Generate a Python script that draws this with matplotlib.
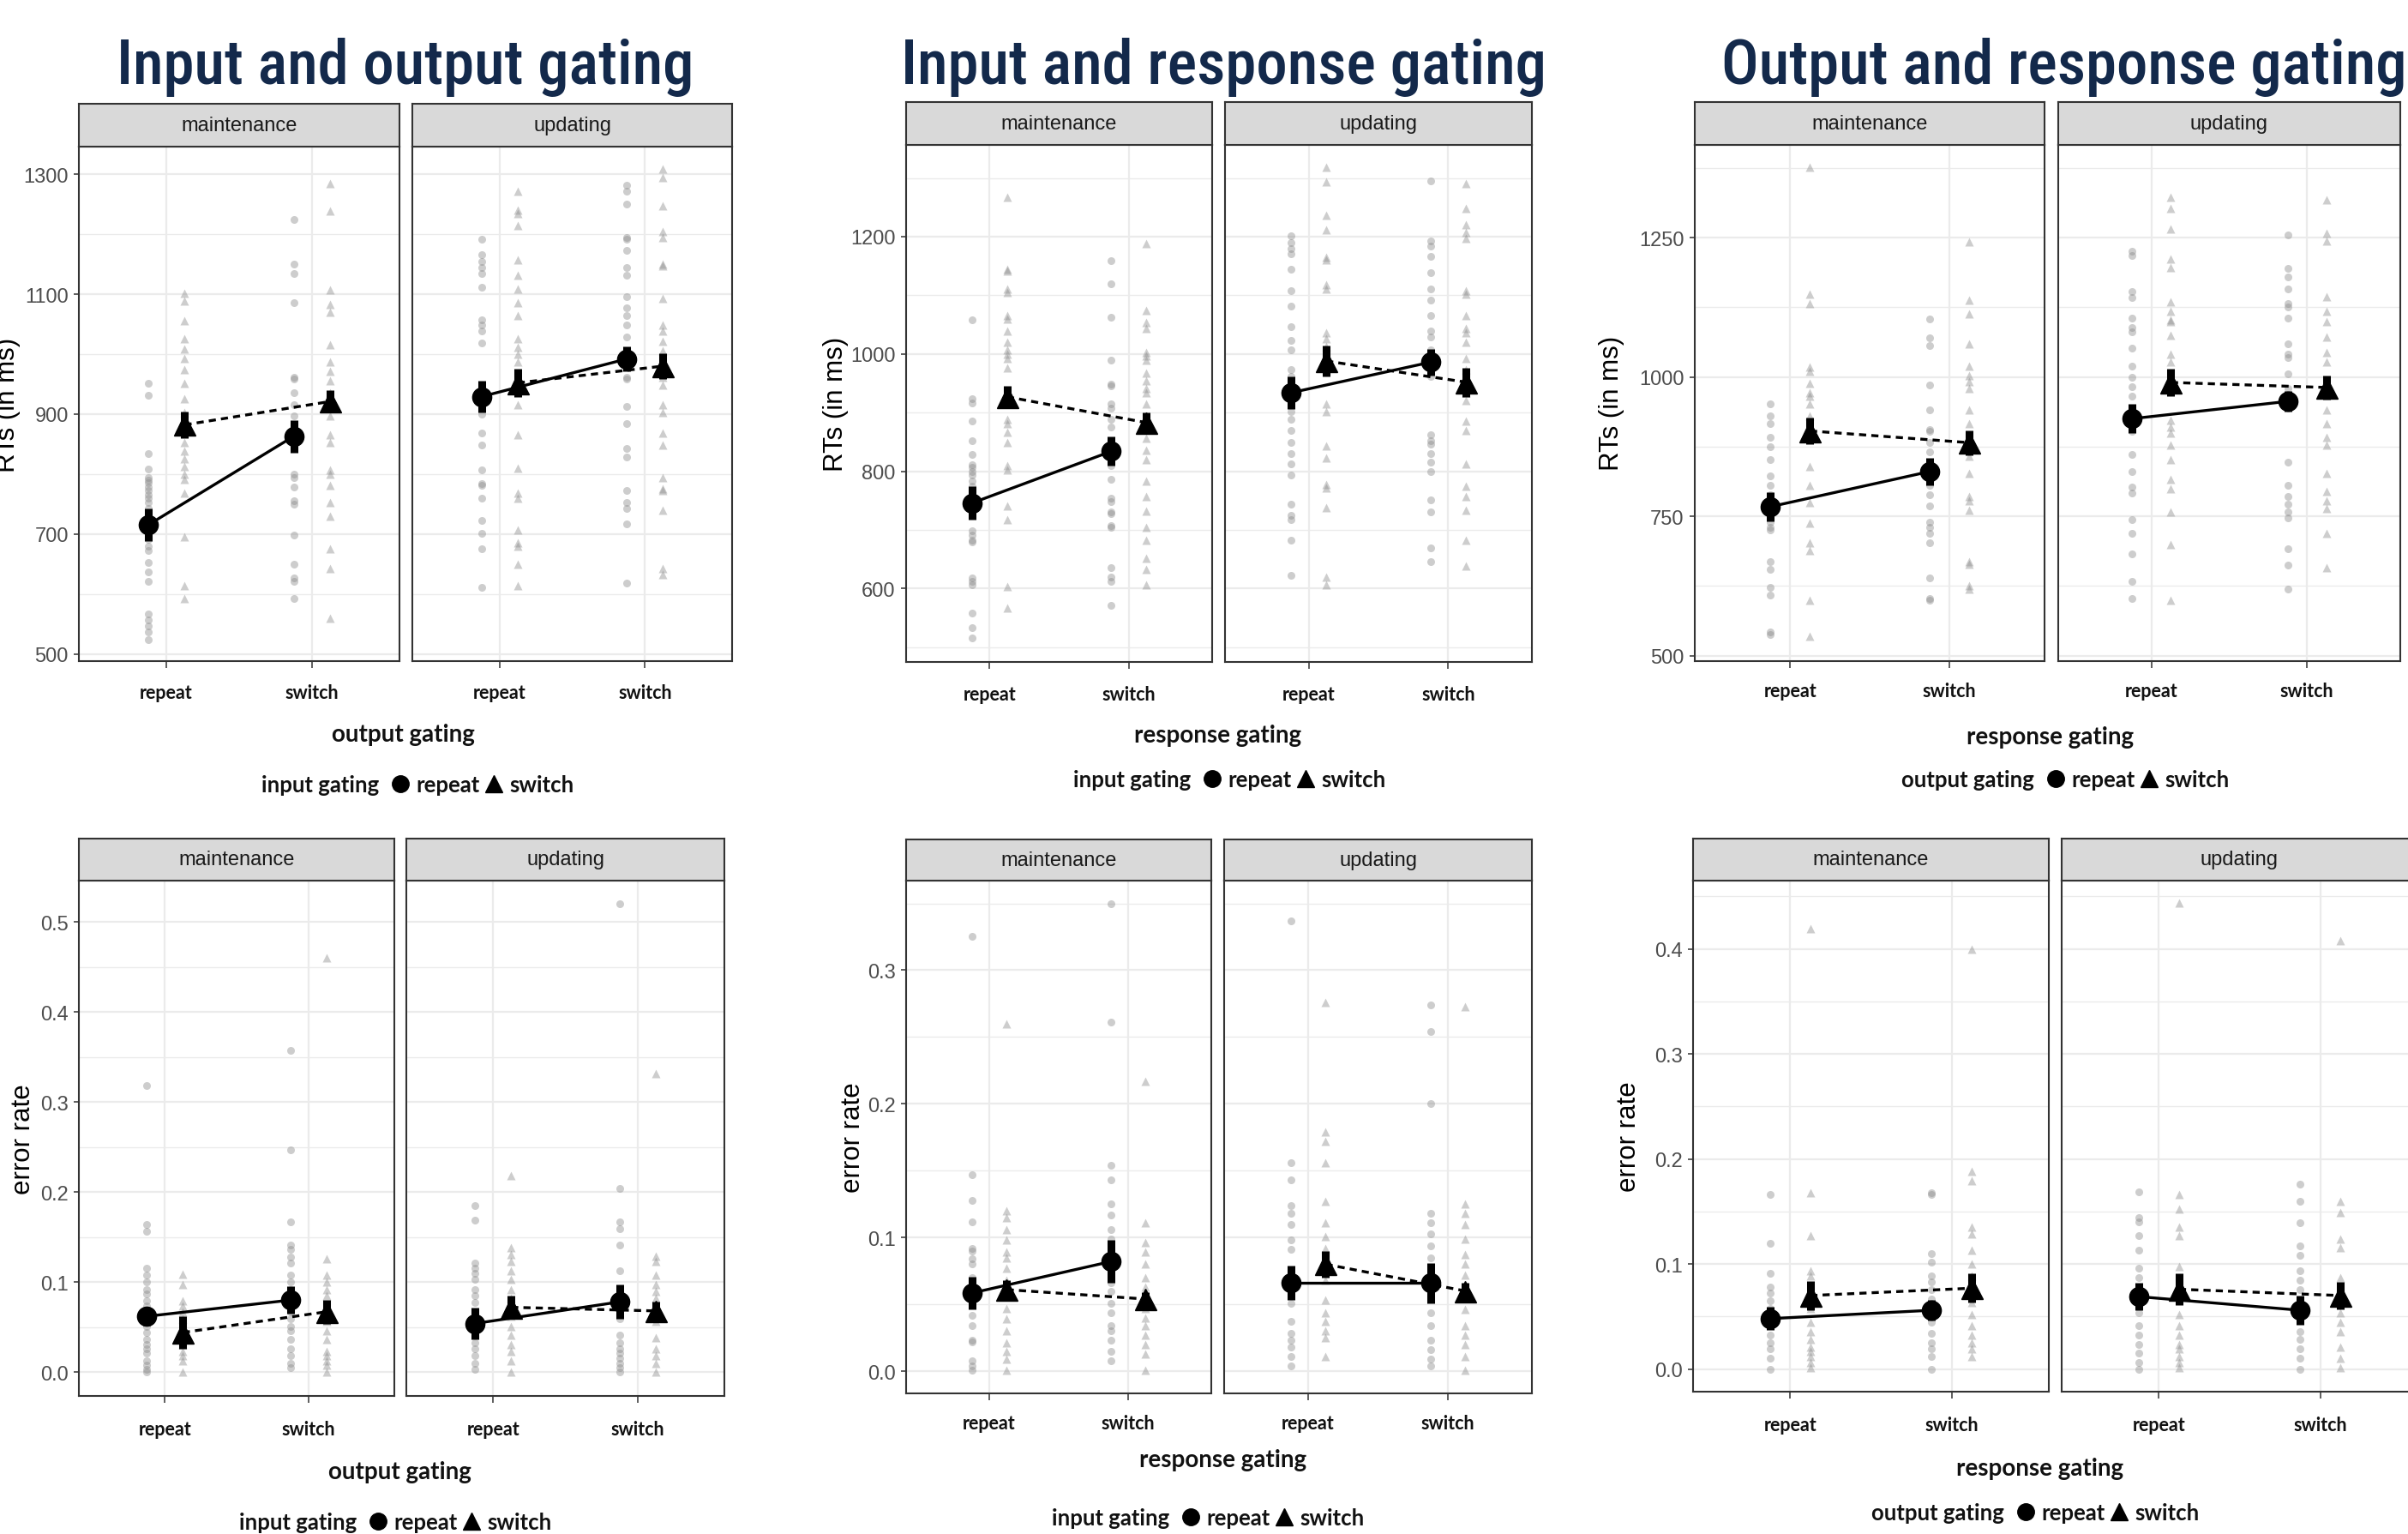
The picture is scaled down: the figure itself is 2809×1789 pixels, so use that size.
import matplotlib
matplotlib.use("Agg")
import matplotlib.pyplot as plt
from matplotlib.lines import Line2D
from matplotlib import font_manager as fm
import numpy as np

W, H = 2809, 1790
DPI = 100

# ----------------------------------------------------------------- data
facets = ["maintenance", "updating"]
levels = ["repeat", "switch"]

# Panel 1: RTs, input (legend) x output (x axis)
rt_io_maint_c_rep = [951, 931, 834, 809, 794, 790, 785, 778, 772, 765, 759, 753, 743, 736, 711, 691, 679, 672, 653, 637, 621, 566, 557, 547, 537, 524]
rt_io_maint_c_sw = [1224, 1150, 1134, 1086, 961, 958, 935, 916, 897, 878, 865, 852, 800, 794, 778, 756, 749, 698, 650, 627, 621, 592]
rt_io_maint_t_rep = [1102, 1089, 1056, 1025, 1009, 993, 974, 951, 926, 903, 884, 868, 852, 839, 826, 813, 800, 791, 768, 695, 614, 592]
rt_io_maint_t_sw = [1285, 1239, 1107, 1083, 1070, 1016, 987, 971, 955, 935, 916, 897, 865, 852, 807, 800, 781, 752, 730, 675, 643, 560]
rt_io_upd_c_rep = [1192, 1166, 1154, 1144, 1134, 1112, 1057, 1048, 1038, 1019, 923, 910, 900, 868, 849, 807, 784, 781, 759, 723, 701, 675, 611]
rt_io_upd_c_sw = [1282, 1272, 1250, 1195, 1192, 1173, 1144, 1131, 1096, 1077, 1064, 1048, 1028, 1000, 961, 958, 913, 884, 842, 829, 772, 752, 743, 717, 618]
rt_io_upd_t_rep = [1272, 1240, 1234, 1215, 1157, 1131, 1109, 1086, 1064, 1025, 1012, 1000, 987, 961, 948, 916, 865, 810, 768, 759, 707, 685, 679, 650, 614]
rt_io_upd_t_sw = [1309, 1295, 1247, 1205, 1195, 1150, 1147, 1093, 1048, 1038, 1022, 1006, 987, 961, 948, 916, 903, 868, 849, 794, 775, 772, 740, 643, 633]
# means / error half-widths ordered: circle@repeat, circle@switch, triangle@repeat, triangle@switch
rt_io_maint_mean = [715, 863, 882, 921]
rt_io_maint_err = [27, 27, 22, 19]
rt_io_upd_mean = [929, 992, 952, 980]
rt_io_upd_err = [26, 21, 24, 22]

# Panel 2: RTs, input (legend) x response (x axis)
rt_ir_maint_c_rep = [1058, 923, 916, 885, 852, 828, 811, 807, 800, 793, 784, 774, 764, 754, 698, 692, 682, 679, 618, 613, 607, 559, 534, 516]
rt_ir_maint_c_sw = [1159, 1119, 1062, 990, 949, 946, 915, 908, 889, 875, 836, 810, 787, 754, 748, 731, 728, 708, 705, 636, 620, 613, 572]
rt_ir_maint_t_rep = [1267, 1144, 1141, 1111, 1105, 1066, 1059, 1039, 1020, 1007, 1000, 993, 977, 918, 889, 882, 866, 849, 810, 803, 741, 718, 603, 567]
rt_ir_maint_t_sw = [1188, 1074, 1054, 1043, 1003, 997, 990, 967, 954, 941, 934, 915, 895, 875, 856, 836, 820, 784, 757, 732, 705, 682, 652, 633, 607]
rt_ir_upd_c_rep = [1201, 1190, 1180, 1170, 1144, 1108, 1082, 1046, 1023, 1007, 974, 961, 902, 889, 869, 849, 830, 813, 793, 744, 725, 718, 682, 623]
rt_ir_upd_c_sw = [1295, 1193, 1184, 1167, 1138, 1111, 1092, 1066, 1039, 1029, 1007, 997, 974, 961, 862, 852, 846, 830, 816, 800, 751, 731, 669, 646]
rt_ir_upd_t_rep = [1319, 1293, 1236, 1211, 1165, 1161, 1118, 1111, 1036, 1026, 1013, 1000, 974, 915, 902, 843, 823, 777, 771, 738, 620, 607]
rt_ir_upd_t_sw = [1290, 1248, 1221, 1207, 1197, 1108, 1102, 1066, 1043, 1036, 1020, 993, 974, 954, 934, 921, 885, 869, 813, 774, 757, 734, 682, 639]
rt_ir_maint_mean = [746, 834, 927, 883]
rt_ir_maint_err = [29, 25, 18, 18]
rt_ir_upd_mean = [934, 986, 988, 952]
rt_ir_upd_err = [28, 23, 26, 25]

# Panel 3: RTs, output (legend) x response (x axis)
rt_or_maint_c_rep = [951, 930, 916, 892, 875, 851, 823, 806, 789, 768, 751, 740, 730, 725, 668, 654, 623, 609, 543, 537]
rt_or_maint_c_sw = [1104, 1070, 1056, 985, 941, 906, 903, 882, 865, 830, 820, 806, 789, 768, 740, 730, 720, 702, 640, 602, 599]
rt_or_maint_t_rep = [1376, 1148, 1132, 1017, 1010, 989, 972, 965, 951, 930, 840, 806, 775, 737, 702, 689, 599, 535]
rt_or_maint_t_sw = [1242, 1137, 1113, 1059, 1019, 1003, 992, 979, 941, 916, 889, 858, 827, 785, 778, 761, 668, 664, 626, 619]
rt_or_upd_c_rep = [1226, 1218, 1153, 1143, 1106, 1088, 1081, 1051, 1020, 999, 982, 965, 934, 923, 903, 861, 830, 802, 792, 744, 720, 682, 633, 602]
rt_or_upd_c_sw = [1255, 1194, 1179, 1158, 1131, 1125, 1106, 1060, 1041, 1034, 1006, 979, 951, 847, 806, 785, 771, 758, 747, 692, 662, 619]
rt_or_upd_t_rep = [1322, 1302, 1265, 1212, 1196, 1134, 1117, 1103, 1099, 1075, 1041, 1027, 999, 923, 910, 899, 878, 851, 816, 799, 758, 699, 599]
rt_or_upd_t_sw = [1317, 1258, 1244, 1144, 1117, 1099, 1072, 1044, 1027, 941, 916, 892, 878, 827, 795, 778, 764, 720, 657]
rt_or_maint_mean = [767, 830, 903, 882]
rt_or_maint_err = [26, 24, 24, 22]
rt_or_upd_mean = [925, 956, 990, 981]
rt_or_upd_err = [26, 19, 24, 21]

# Panel 4: error rate, input (legend) x output (x axis)
er_io_maint_c_rep = [0.318, 0.164, 0.156, 0.115, 0.108, 0.100, 0.092, 0.087, 0.079, 0.074, 0.067, 0.059, 0.051, 0.044, 0.036, 0.031, 0.026, 0.021, 0.013, 0.008, 0.003, 0.0]
er_io_maint_c_sw = [0.357, 0.247, 0.167, 0.141, 0.136, 0.128, 0.121, 0.108, 0.100, 0.092, 0.085, 0.077, 0.067, 0.059, 0.051, 0.046, 0.036, 0.026, 0.018, 0.010, 0.005]
er_io_maint_t_rep = [0.109, 0.097, 0.079, 0.074, 0.067, 0.059, 0.051, 0.041, 0.031, 0.023, 0.018, 0.013, 0.0]
er_io_maint_t_sw = [0.46, 0.126, 0.108, 0.100, 0.092, 0.085, 0.067, 0.056, 0.046, 0.036, 0.023, 0.018, 0.013, 0.008, 0.0]
er_io_upd_c_rep = [0.185, 0.169, 0.121, 0.115, 0.110, 0.103, 0.092, 0.085, 0.077, 0.067, 0.059, 0.051, 0.041, 0.033, 0.026, 0.018, 0.010, 0.003]
er_io_upd_c_sw = [0.52, 0.204, 0.167, 0.159, 0.141, 0.113, 0.082, 0.067, 0.059, 0.041, 0.033, 0.026, 0.021, 0.015, 0.010, 0.005, 0.0]
er_io_upd_t_rep = [0.218, 0.138, 0.131, 0.123, 0.113, 0.103, 0.092, 0.082, 0.072, 0.062, 0.051, 0.041, 0.031, 0.023, 0.013, 0.0]
er_io_upd_t_sw = [0.332, 0.129, 0.123, 0.108, 0.097, 0.090, 0.082, 0.067, 0.056, 0.038, 0.026, 0.018, 0.010, 0.0]
er_io_maint_mean = [0.062, 0.080, 0.044, 0.067]
er_io_maint_err = [0.010, 0.015, 0.018, 0.013]
er_io_upd_mean = [0.054, 0.078, 0.072, 0.068]
er_io_upd_err = [0.018, 0.019, 0.013, 0.010]

# Panel 5: error rate, input (legend) x response (x axis)
er_ir_maint_c_rep = [0.325, 0.147, 0.128, 0.112, 0.092, 0.090, 0.084, 0.080, 0.070, 0.056, 0.051, 0.042, 0.034, 0.023, 0.022, 0.008, 0.004, 0.001]
er_ir_maint_c_sw = [0.35, 0.261, 0.154, 0.143, 0.125, 0.117, 0.106, 0.099, 0.091, 0.075, 0.066, 0.060, 0.051, 0.044, 0.034, 0.030, 0.023, 0.015, 0.008]
er_ir_maint_t_rep = [0.26, 0.120, 0.115, 0.106, 0.098, 0.089, 0.085, 0.077, 0.068, 0.058, 0.047, 0.039, 0.030, 0.021, 0.015, 0.009, 0.001]
er_ir_maint_t_sw = [0.217, 0.111, 0.096, 0.089, 0.080, 0.070, 0.063, 0.056, 0.047, 0.040, 0.034, 0.027, 0.020, 0.013, 0.001]
er_ir_upd_c_rep = [0.337, 0.156, 0.143, 0.124, 0.118, 0.110, 0.098, 0.091, 0.072, 0.058, 0.051, 0.037, 0.028, 0.023, 0.018, 0.011, 0.004]
er_ir_upd_c_sw = [0.274, 0.254, 0.200, 0.118, 0.111, 0.103, 0.094, 0.085, 0.075, 0.044, 0.034, 0.023, 0.016, 0.009, 0.004]
er_ir_upd_t_rep = [0.276, 0.179, 0.172, 0.156, 0.127, 0.111, 0.101, 0.092, 0.068, 0.053, 0.044, 0.037, 0.030, 0.025, 0.011]
er_ir_upd_t_sw = [0.273, 0.125, 0.118, 0.110, 0.099, 0.087, 0.080, 0.072, 0.056, 0.046, 0.034, 0.027, 0.020, 0.011, 0.001]
er_ir_maint_mean = [0.0585, 0.082, 0.061, 0.054]
er_ir_maint_err = [0.012, 0.016, 0.007, 0.005]
er_ir_upd_mean = [0.066, 0.066, 0.080, 0.060]
er_ir_upd_err = [0.013, 0.015, 0.010, 0.006]

# Panel 6: error rate, output (legend) x response (x axis)
er_or_maint_c_rep = [0.166, 0.120, 0.091, 0.078, 0.072, 0.065, 0.058, 0.050, 0.041, 0.032, 0.025, 0.019, 0.010, 0.0]
er_or_maint_c_sw = [0.168, 0.166, 0.110, 0.102, 0.089, 0.083, 0.076, 0.067, 0.054, 0.045, 0.034, 0.025, 0.019, 0.012, 0.0]
er_or_maint_t_rep = [0.419, 0.168, 0.127, 0.094, 0.089, 0.058, 0.045, 0.036, 0.028, 0.021, 0.017, 0.012, 0.006, 0.001]
er_or_maint_t_sw = [0.40, 0.188, 0.179, 0.135, 0.129, 0.113, 0.100, 0.089, 0.072, 0.063, 0.052, 0.041, 0.032, 0.025, 0.019, 0.012]
er_or_upd_c_rep = [0.169, 0.144, 0.140, 0.127, 0.113, 0.096, 0.087, 0.076, 0.065, 0.054, 0.041, 0.032, 0.023, 0.015, 0.006, 0.0]
er_or_upd_c_sw = [0.176, 0.160, 0.139, 0.117, 0.108, 0.094, 0.085, 0.076, 0.052, 0.036, 0.028, 0.019, 0.010, 0.0]
er_or_upd_t_rep = [0.444, 0.166, 0.152, 0.135, 0.127, 0.098, 0.052, 0.041, 0.032, 0.023, 0.019, 0.012, 0.006, 0.001]
er_or_upd_t_sw = [0.408, 0.160, 0.149, 0.124, 0.116, 0.087, 0.078, 0.063, 0.054, 0.045, 0.036, 0.021, 0.010, 0.001]
er_or_maint_mean = [0.048, 0.056, 0.070, 0.077]
er_or_maint_err = [0.011, 0.010, 0.014, 0.014]
er_or_upd_mean = [0.069, 0.056, 0.076, 0.070]
er_or_upd_err = [0.013, 0.014, 0.015, 0.013]

column_titles = ["Input and output gating", "Input and response gating", "Output and response gating"]
x_titles = ["output gating", "response gating", "response gating"]
legend_titles = ["input gating", "input gating", "output gating"]
y_titles = ["RTs (in ms)", "error rate"]

# ----------------------------------------------------------------- fonts
names = {f.name for f in fm.fontManager.ttflist}


def pick(cands, default="DejaVu Sans"):
    for c in cands:
        if c in names:
            return c
    return default


SANS = pick(["Liberation Sans", "Arial", "DejaVu Sans"])
NARROW = pick(["Roboto Condensed", "Liberation Sans Narrow", "Open Sans Condensed", "Arial Narrow"], SANS)
BOLDF = pick(["Lato", "Open Sans", "Liberation Sans"])
# title weight: a medium cut when the condensed family ships one, else semibold/bold
_weights = {f.weight for f in fm.fontManager.ttflist if f.name == NARROW}
_weights = {int(w) if str(w).isdigit() else w for w in _weights}
TITLE_WEIGHT = 500 if 500 in _weights else (600 if 600 in _weights else "bold")

# ----------------------------------------------------------------- style
GRID = "#EBEBEB"
BORDER = "#333333"
STRIP_BG = "#D9D9D9"
PT_COL = "#8a8a8a"
TITLE_COL = "#13294B"

fig = plt.figure(figsize=(W / DPI, H / DPI), dpi=DPI)
fig.patch.set_facecolor("white")


def rect(x0, y0, x1, y1):
    return [x0 / W, 1 - y1 / H, (x1 - x0) / W, (y1 - y0) / H]


def fx(x):
    return x / W


def fy(y):
    return 1 - y / H


# panel layout (pixel boxes) -- positions only
panels = [
    dict(data="rt_io", maint=(92, 466), upd=(481, 854), strip_top=121.5, top=172, bottom=772,
         ylim=(488, 1346), major=[500, 700, 900, 1100, 1300], minor=[600, 800, 1000, 1200], fmt="{:.0f}",
         ytitle=0, ylab_x=9.5, col=0, xt=(470, 857), lg=(488, 916), tly=810),
    dict(data="rt_ir", maint=(1057, 1414), upd=(1429, 1787), strip_top=120, top=169.5, bottom=773,
         ylim=(475, 1357), major=[600, 800, 1000, 1200], minor=[500, 700, 900, 1100, 1300], fmt="{:.0f}",
         ytitle=0, ylab_x=974.5, col=1, xt=(1421, 858), lg=(1435, 910), tly=812),
    dict(data="rt_or", maint=(1977, 2385), upd=(2401, 2800), strip_top=120, top=169.5, bottom=772,
         ylim=(490, 1417), major=[500, 750, 1000, 1250], minor=[625, 875, 1125, 1375], fmt="{:.0f}",
         ytitle=0, ylab_x=1880, col=2, xt=(2392, 860), lg=(2410, 910), tly=808),
    dict(data="er_io", maint=(92, 460), upd=(474, 845), strip_top=978.5, top=1028, bottom=1628.5,
         ylim=(-0.026, 0.546), major=[0, 0.1, 0.2, 0.3, 0.4, 0.5], minor=[0.05, 0.15, 0.25, 0.35, 0.45], fmt="{:.1f}",
         ytitle=1, ylab_x=27, col=0, xt=(466, 1717), lg=(462, 1776), tly=1669),
    dict(data="er_ir", maint=(1057, 1413), upd=(1428, 1787), strip_top=979.6, top=1028, bottom=1626,
         ylim=(-0.0166, 0.367), major=[0, 0.1, 0.2, 0.3], minor=[0.05, 0.15, 0.25, 0.35], fmt="{:.1f}",
         ytitle=1, ylab_x=995, col=1, xt=(1427, 1703), lg=(1410, 1771), tly=1662),
    dict(data="er_or", maint=(1975, 2390), upd=(2405, 2820), strip_top=978.5, top=1028, bottom=1624,
         ylim=(-0.0215, 0.465), major=[0, 0.1, 0.2, 0.3, 0.4], minor=[0.05, 0.15, 0.25, 0.35, 0.45], fmt="{:.1f}",
         ytitle=1, ylab_x=1900, col=2, xt=(2380, 1713), lg=(2375, 1765), tly=1664),
]

G = globals()
DODGE = 0.125
TICK_LEN_PX = 8


def draw_facet(ax, prefix, fac):
    for s, marker, dodge in (("c", "o", -DODGE), ("t", "^", DODGE)):
        for xi, lv in enumerate(("rep", "sw")):
            vals = np.asarray(G[f"{prefix}_{fac}_{s}_{lv}"], dtype=float)
            ax.plot(np.full(vals.size, xi + 1 + dodge), vals, ls="none", marker=marker,
                    ms=6.5 if marker == "o" else 7, color=PT_COL, alpha=0.42, mec="none", zorder=2)
    means = G[f"{prefix}_{fac}_mean"]
    errs = G[f"{prefix}_{fac}_err"]
    for si, (marker, dodge, ls, msz) in enumerate((("o", -DODGE, "-", 16), ("^", DODGE, (0, (2.5, 1.8)), 18))):
        xs = np.array([1, 2]) + dodge
        ys = means[2 * si: 2 * si + 2]
        es = errs[2 * si: 2 * si + 2]
        ax.plot(xs, ys, color="black", lw=2.4, ls=ls, zorder=4)
        ax.errorbar(xs, ys, yerr=es, fmt="none", ecolor="black", elinewidth=6.5, capsize=0, zorder=5)
        ax.plot(xs, ys, ls="none", marker=marker, ms=msz, color="black", zorder=6)


for p in panels:
    prefix = p["data"]
    for fi, fac in enumerate(("maint", "upd")):
        x0, x1 = p[fac]
        ax = fig.add_axes(rect(x0, p["top"], x1, p["bottom"]))
        ax.set_facecolor("white")
        draw_facet(ax, prefix, fac)
        ax.set_xlim(0.4, 2.6)
        ax.set_ylim(*p["ylim"])
        ax.set_xticks([1, 2])
        ax.set_yticks(p["major"])
        ax.set_yticks(p["minor"], minor=True)
        ax.set_xticks([], minor=True)
        ax.grid(True, which="major", color=GRID, lw=1.6, zorder=0)
        ax.grid(True, which="minor", axis="y", color=GRID, lw=1.0, zorder=0)
        ax.set_axisbelow(True)
        for sp in ax.spines.values():
            sp.set_color(BORDER)
            sp.set_linewidth(1.5)
        pad_x = (p["tly"] - p["bottom"] - TICK_LEN_PX - 12) * 72 / DPI
        ax.tick_params(axis="x", which="major", length=TICK_LEN_PX * 72 / DPI, width=1.1, color=BORDER, pad=pad_x)
        ax.set_xticklabels(levels, fontfamily=BOLDF, fontweight="bold", fontsize=15.5, color="#111111")
        ax.tick_params(which="minor", length=0)
        if fi == 0:
            ax.tick_params(axis="y", which="major", length=6 * 72 / DPI, width=1.1, color=BORDER, pad=4.5)
            ax.set_yticklabels([p["fmt"].format(v) for v in p["major"]], fontfamily=SANS, fontsize=17, color="#4D4D4D")
        else:
            ax.tick_params(axis="y", which="both", left=False, labelleft=False)
        # strip
        sax = fig.add_axes(rect(x0, p["strip_top"], x1, p["top"]))
        sax.set_facecolor(STRIP_BG)
        sax.set_xticks([])
        sax.set_yticks([])
        for sp in sax.spines.values():
            sp.set_color(BORDER)
            sp.set_linewidth(1.5)
        sax.text(0.5, 0.5, facets[fi], transform=sax.transAxes, ha="center", va="center",
                 fontfamily=SANS, fontsize=17, color="#1A1A1A")
    # y title
    yc = (p["top"] + p["bottom"]) / 2
    fig.text(fx(p["ylab_x"]), fy(yc), y_titles[p["ytitle"]], rotation=90, ha="center", va="center",
             fontfamily=SANS, fontsize=22.5, color="black")
    # x title
    fig.text(fx(p["xt"][0]), fy(p["xt"][1]), x_titles[p["col"]], ha="center", va="center",
             fontfamily=BOLDF, fontweight="bold", fontsize=20, color="#111111")

# legends: "<title>  ● repeat ▲ switch", centred on the measured position
renderer = fig.canvas.get_renderer()
GAP = 12 / W
for p in panels:
    cx, cy = p["lg"]
    t = fig.text(fx(cx), fy(cy), legend_titles[p["col"]], ha="right", va="center",
                 fontfamily=BOLDF, fontweight="bold", fontsize=18.5, color="#111111")
    handles = [Line2D([], [], ls="none", marker="o", color="black", ms=14),
               Line2D([], [], ls="none", marker="^", color="black", ms=15)]
    leg = fig.legend(handles, levels, loc="center left", bbox_to_anchor=(fx(cx) + GAP, fy(cy)),
                     bbox_transform=fig.transFigure, ncol=2, frameon=False, handlelength=0.9,
                     handletextpad=0.25, columnspacing=0.2, borderpad=0.05, borderaxespad=0.0,
                     prop=dict(family=BOLDF, weight="bold", size=18.5))
    for txt in leg.get_texts():
        txt.set_color("#111111")
    tb = t.get_window_extent(renderer)
    lb = leg.get_window_extent(renderer)
    total_mid = (tb.x0 + lb.x1) / 2.0
    shift = (cx - total_mid) / W
    t.set_x(fx(cx) + shift)
    leg.set_bbox_to_anchor((fx(cx) + GAP + shift, fy(cy)), transform=fig.transFigure)

# column titles (fit font size to measured width of the middle title)
probe = fig.text(0, 0, column_titles[1], fontfamily=NARROW, fontweight=TITLE_WEIGHT, fontsize=50)
pw = probe.get_window_extent(renderer).width
probe.remove()
tsize = 50 * (1804 - 1051) / pw
for left, s in zip((135.6, 1051, 2008), column_titles):
    fig.text(fx(left), fy(98), s, ha="left", va="baseline", fontfamily=NARROW, fontweight=TITLE_WEIGHT,
             fontsize=tsize, color=TITLE_COL)

fig.savefig("out.png", dpi=DPI, facecolor="white")
